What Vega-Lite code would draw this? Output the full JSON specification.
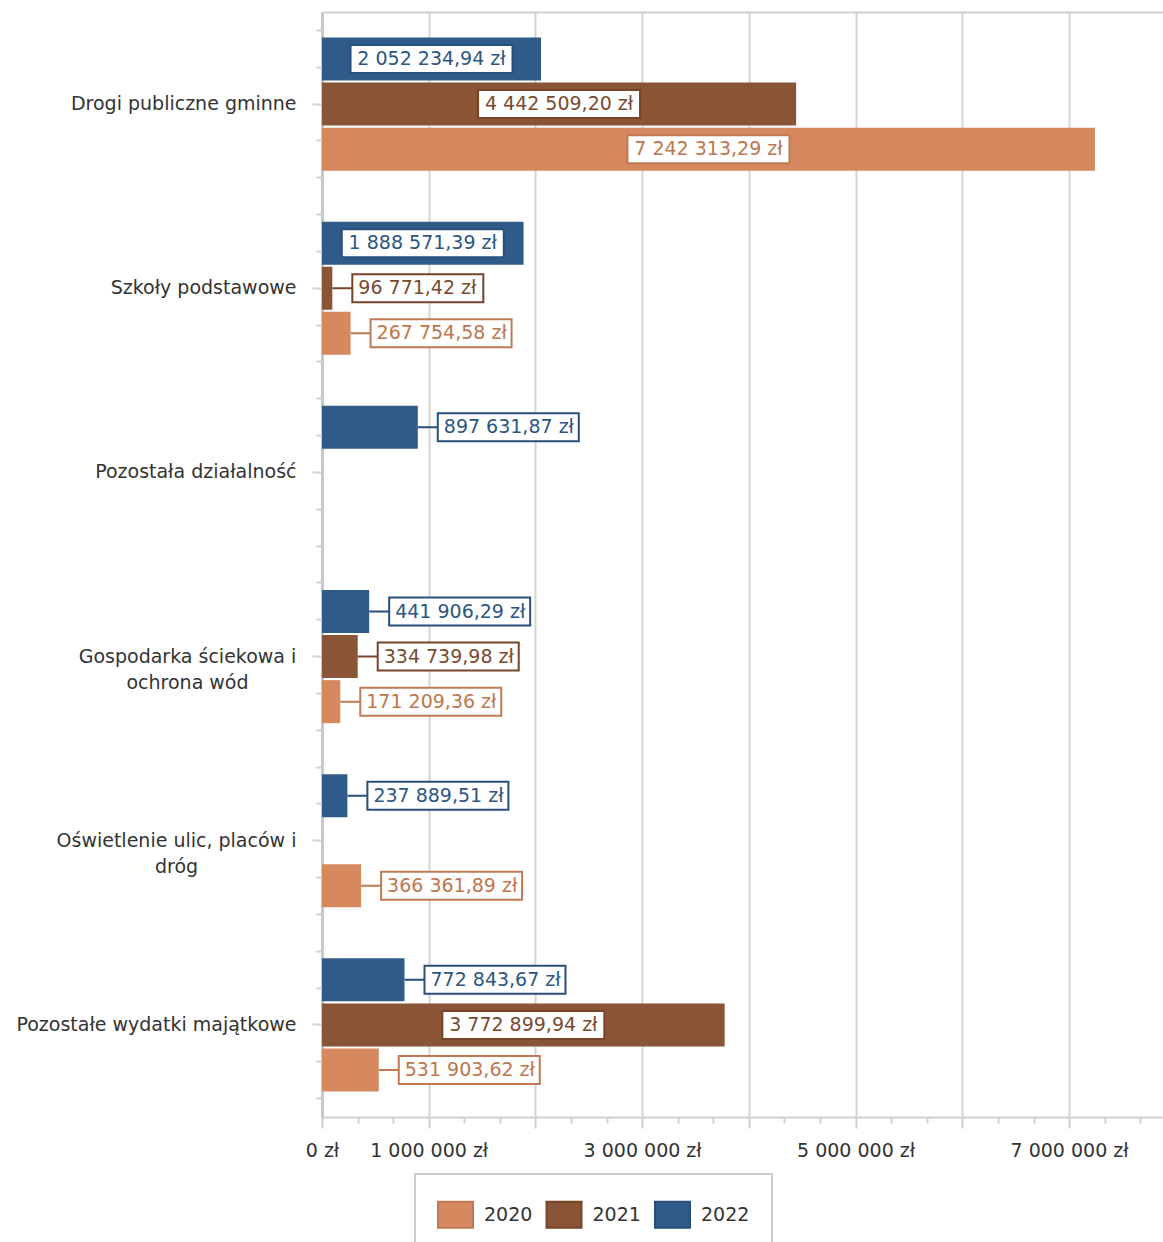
{
  "$schema": "https://vega.github.io/schema/vega-lite/v6.json",
  "width": 841,
  "height": 1105,
  "autosize": {"type": "none"},
  "padding": {"left": 322, "top": 12, "right": 0, "bottom": 125},
  "background": "white",
  "config": {
    "view": {"stroke": null},
    "locale": {"number": {"decimal": ",", "thousands": " ", "grouping": [3], "currency": ["", " zł"]}},
    "text": {"font": "DejaVu Sans"}
  },
  "data": {
    "values": [
      {"category": "Drogi publiczne gminne", "year": "2020", "value": 7242313.29},
      {"category": "Drogi publiczne gminne", "year": "2021", "value": 4442509.20},
      {"category": "Drogi publiczne gminne", "year": "2022", "value": 2052234.94},
      {"category": "Szkoły podstawowe", "year": "2020", "value": 267754.58},
      {"category": "Szkoły podstawowe", "year": "2021", "value": 96771.42},
      {"category": "Szkoły podstawowe", "year": "2022", "value": 1888571.39},
      {"category": "Pozostała działalność", "year": "2022", "value": 897631.87},
      {"category": "Gospodarka ściekowa i ochrona wód", "year": "2020", "value": 171209.36},
      {"category": "Gospodarka ściekowa i ochrona wód", "year": "2021", "value": 334739.98},
      {"category": "Gospodarka ściekowa i ochrona wód", "year": "2022", "value": 441906.29},
      {"category": "Oświetlenie ulic, placów i dróg", "year": "2020", "value": 366361.89},
      {"category": "Oświetlenie ulic, placów i dróg", "year": "2022", "value": 237889.51},
      {"category": "Pozostałe wydatki majątkowe", "year": "2020", "value": 531903.62},
      {"category": "Pozostałe wydatki majątkowe", "year": "2021", "value": 3772899.94},
      {"category": "Pozostałe wydatki majątkowe", "year": "2022", "value": 772843.67}
    ]
  },
  "resolve": {"axis": {"x": "independent", "y": "independent"}},
  "layer": [
    {
      "mark": {"type": "bar"},
      "encoding": {
        "y": {
          "field": "category", "type": "nominal",
          "scale": {"domain": ["Drogi publiczne gminne", "Szkoły podstawowe", "Pozostała działalność", "Gospodarka ściekowa i ochrona wód", "Oświetlenie ulic, placów i dróg", "Pozostałe wydatki majątkowe"], "paddingInner": 0.277, "paddingOuter": 0.1385},
          "axis": {
            "orient": "left", "title": null, "grid": false,
            "tickSize": 10, "tickWidth": 2, "tickColor": "#CFCFCF",
            "domainColor": "#C8C8C8", "domainWidth": 3,
            "labelFont": "DejaVu Sans", "labelFontSize": 19, "labelColor": "#333333",
            "labelLineHeight": 26, "labelLimit": 0,
            "labelExpr": "datum.value == 'Gospodarka ściekowa i ochrona wód' ? ['Gospodarka ściekowa i', 'ochrona wód'] : datum.value == 'Oświetlenie ulic, placów i dróg' ? ['Oświetlenie ulic, placów i', 'dróg'] : datum.label",
            "labelAlign": {"condition": {"test": "datum.value == 'Gospodarka ściekowa i ochrona wód' || datum.value == 'Oświetlenie ulic, placów i dróg'", "value": "center"}, "value": "right"},
            "labelPadding": {"condition": [
              {"test": "datum.value == 'Gospodarka ściekowa i ochrona wód'", "value": 125},
              {"test": "datum.value == 'Oświetlenie ulic, placów i dróg'", "value": 136}
            ], "value": 16}
          }
        },
        "yOffset": {"field": "year", "type": "nominal", "scale": {"domain": ["2022", "2021", "2020"], "paddingInner": 0.045, "paddingOuter": 0}},
        "x": {
          "field": "value", "type": "quantitative",
          "scale": {"domain": [0, 7880000], "nice": false, "zero": true},
          "axis": {
            "orient": "bottom", "title": null,
            "values": [0, 1000000, 2000000, 3000000, 4000000, 5000000, 6000000, 7000000],
            "format": "$,.0f", "labelOverlap": "greedy", "labelFlush": false,
            "labelFont": "DejaVu Sans", "labelFontSize": 19, "labelColor": "#333333", "labelPadding": 13,
            "tickSize": 11, "tickWidth": 2, "tickColor": "#CFCFCF",
            "domainColor": "#CFCFCF", "domainWidth": 2,
            "grid": true, "gridColor": "#D4D4D4", "gridWidth": 2
          }
        },
        "color": {
          "field": "year", "type": "nominal",
          "scale": {"domain": ["2020", "2021", "2022"], "range": ["#D6895F", "#8A5536", "#2F5B88"]},
          "legend": {
            "orient": "none", "legendX": 93, "legendY": 1162, "direction": "horizontal", "title": null,
            "padding": 22, "strokeColor": "#CCCCCC", "fillColor": "white",
            "symbolType": "M-1,-0.743H1V0.743H-1Z", "symbolSize": 1225, "symbolStrokeWidth": 2, "symbolOpacity": 1,
            "labelFont": "DejaVu Sans", "labelFontSize": 19, "labelColor": "#333333", "labelOffset": 10, "columnPadding": 9.5,
            "encode": {
              "legend": {"update": {"strokeWidth": {"value": 2}}},
              "symbols": {"update": {"stroke": {"signal": "datum.value == '2020' ? '#B8734C' : datum.value == '2021' ? '#6F4229' : '#254B72'"}}}
            }
          }
        }
      }
    },
    {
      "transform": [{"filter": "datum.value > 1000000"}, {"calculate": "datum.value / 2", "as": "mid"}],
      "mark": {"type": "point", "shape": "M-1.62,-0.28H1.62V0.28H-1.62Z", "size": 10000, "filled": true, "fill": "white", "strokeWidth": 2, "opacity": 1},
      "encoding": {
        "y": {"field": "category", "type": "nominal", "axis": {"orient": "left", "title": null, "domain": false, "labels": false, "grid": false, "ticks": true, "tickSize": 6, "tickWidth": 2, "tickColor": "#CFCFCF", "bandPosition": -0.0534}},
        "yOffset": {"field": "year", "type": "nominal"},
        "x": {"field": "mid", "type": "quantitative", "axis": {"orient": "top", "title": null, "domain": true, "domainColor": "#CFCFCF", "domainWidth": 2, "ticks": false, "labels": false, "grid": false}},
        "stroke": {"field": "year", "type": "nominal", "scale": {"domain": ["2020", "2021", "2022"], "range": ["#C07A53", "#774429", "#284F7B"]}, "legend": null}
      }
    },
    {
      "transform": [{"filter": "datum.value > 1000000"}, {"calculate": "datum.value / 2", "as": "mid"}],
      "mark": {"type": "text", "font": "DejaVu Sans", "fontSize": 19, "align": "center", "baseline": "middle"},
      "encoding": {
        "y": {"field": "category", "type": "nominal", "axis": {"orient": "left", "title": null, "domain": false, "labels": false, "grid": false, "ticks": true, "tickSize": 6, "tickWidth": 2, "tickColor": "#CFCFCF", "bandPosition": 0.2233}},
        "yOffset": {"field": "year", "type": "nominal"},
        "x": {"field": "mid", "type": "quantitative", "axis": null},
        "text": {"field": "value", "type": "quantitative", "format": "$,.2f"},
        "fill": {"field": "year", "type": "nominal", "scale": {"domain": ["2020", "2021", "2022"], "range": ["#BD764E", "#7A4A2F", "#2C5682"]}, "legend": null}
      }
    },
    {
      "transform": [{"filter": "datum.value < 1000000 && datum.value >= 100000"}],
      "mark": {"type": "point", "shape": "M0,0H0.4M0.4,-0.28H3.22V0.28H0.4Z", "size": 10000, "filled": true, "fill": "white", "strokeWidth": 2, "opacity": 1},
      "encoding": {
        "y": {"field": "category", "type": "nominal", "axis": {"orient": "left", "title": null, "domain": false, "labels": false, "grid": false, "ticks": true, "tickSize": 6, "tickWidth": 2, "tickColor": "#CFCFCF", "bandPosition": 0.7767}},
        "yOffset": {"field": "year", "type": "nominal"},
        "x": {"field": "value", "type": "quantitative", "axis": {"orient": "bottom", "title": null, "domain": false, "labels": false, "grid": false, "ticks": true, "tickSize": 6, "tickWidth": 2, "tickColor": "#CFCFCF",
          "values": [333333.33, 666666.67, 1333333.33, 1666666.67, 2333333.33, 2666666.67, 3333333.33, 3666666.67, 4333333.33, 4666666.67, 5333333.33, 5666666.67, 6333333.33, 6666666.67, 7333333.33, 7666666.67]}},
        "stroke": {"field": "year", "type": "nominal", "legend": null}
      }
    },
    {
      "transform": [{"filter": "datum.value < 100000"}],
      "mark": {"type": "point", "shape": "M0,0H0.4M0.4,-0.28H3.02V0.28H0.4Z", "size": 10000, "filled": true, "fill": "white", "strokeWidth": 2, "opacity": 1},
      "encoding": {
        "y": {"field": "category", "type": "nominal", "axis": {"orient": "left", "title": null, "domain": false, "labels": false, "grid": false, "ticks": true, "tickSize": 6, "tickWidth": 2, "tickColor": "#CFCFCF", "bandPosition": 1.0534}},
        "yOffset": {"field": "year", "type": "nominal"},
        "x": {"field": "value", "type": "quantitative", "axis": null},
        "stroke": {"field": "year", "type": "nominal", "legend": null}
      }
    },
    {
      "transform": [{"filter": "datum.value < 1000000"}],
      "mark": {"type": "text", "font": "DejaVu Sans", "fontSize": 19, "align": "left", "baseline": "middle", "dx": 26},
      "encoding": {
        "y": {"field": "category", "type": "nominal", "axis": null},
        "yOffset": {"field": "year", "type": "nominal"},
        "x": {"field": "value", "type": "quantitative", "axis": null},
        "text": {"field": "value", "type": "quantitative", "format": "$,.2f"},
        "fill": {"field": "year", "type": "nominal", "legend": null}
      }
    }
  ]
}
